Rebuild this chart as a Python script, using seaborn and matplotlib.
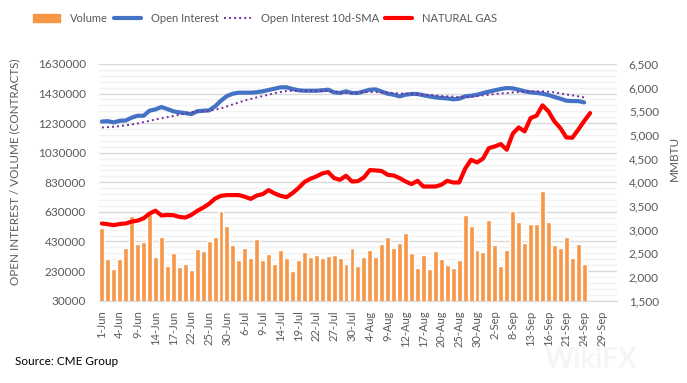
import matplotlib
matplotlib.use("Agg")
import matplotlib.pyplot as plt
import numpy as np
import pandas as pd
import seaborn as sns
from matplotlib.patches import Patch
from matplotlib.lines import Line2D

""" Données lues sur le graphique (jours de bourse du 1-Jun au 24-Sep) """
volume = [524, 310, 244, 310, 384, 603, 411, 427, 615, 323, 459, 262, 353, 256, 276, 238,
          378, 364, 432, 459, 635, 533, 405, 303, 384, 317, 445, 303, 344, 276, 371, 317,
          229, 303, 357, 323, 337, 317, 330, 337, 317, 276, 384, 262, 323, 371, 323, 411,
          459, 384, 418, 486, 350, 249, 337, 242, 368, 314, 274, 253, 308, 612, 538, 375,
          362, 572, 409, 267, 375, 633, 565, 423, 551, 545, 768, 565, 409, 389, 463, 321,
          416, 281]
open_interest = [1241, 1243, 1235, 1246, 1248, 1267, 1280, 1280, 1314, 1323, 1339, 1325, 1310,
                 1303, 1298, 1291, 1310, 1314, 1316, 1343, 1382, 1413, 1429, 1436, 1436, 1436,
                 1439, 1445, 1454, 1463, 1472, 1472, 1461, 1452, 1449, 1449, 1449, 1452, 1456,
                 1438, 1434, 1445, 1434, 1434, 1445, 1456, 1458, 1443, 1429, 1422, 1411, 1422,
                 1427, 1427, 1418, 1411, 1404, 1400, 1397, 1391, 1395, 1411, 1415, 1422, 1433,
                 1443, 1452, 1461, 1467, 1465, 1456, 1445, 1438, 1434, 1429, 1420, 1407, 1395,
                 1382, 1379, 1379, 1370]
oi_sma = [1201, 1203, 1206, 1210, 1215, 1221, 1228, 1237, 1246, 1255, 1262, 1271, 1278, 1287,
          1294, 1303, 1307, 1309, 1314, 1321, 1330, 1343, 1357, 1370, 1384, 1393, 1404, 1413,
          1422, 1433, 1440, 1447, 1449, 1449, 1449, 1449, 1449, 1449, 1447, 1442, 1438, 1433,
          1433, 1436, 1440, 1440, 1440, 1438, 1436, 1433, 1431, 1429, 1427, 1424, 1422, 1420,
          1418, 1413, 1411, 1409, 1406, 1406, 1409, 1413, 1418, 1422, 1427, 1431, 1433, 1438,
          1440, 1442, 1445, 1445, 1445, 1442, 1438, 1431, 1424, 1418, 1411, 1404]
gas_price = [3130, 3115, 3095, 3120, 3130, 3170, 3190, 3240, 3340, 3400, 3300, 3310, 3305, 3270,
             3255, 3310, 3395, 3465, 3545, 3655, 3715, 3730, 3730, 3730, 3695, 3650, 3720, 3750,
             3835, 3765, 3715, 3685, 3770, 3877, 4004, 4074, 4123, 4187, 4216, 4089, 4053, 4138,
             4017, 4025, 4102, 4258, 4251, 4237, 4159, 4144, 4089, 4017, 3962, 4032, 3911, 3911,
             3911, 3947, 4032, 3996, 3996, 4286, 4476, 4420, 4500, 4723, 4758, 4807, 4688, 5026,
             5160, 5075, 5357, 5407, 5626, 5499, 5287, 5146, 4948, 4941, 5111, 5294, 5463]
tick_labels = ['1-Jun', '4-Jun', '9-Jun', '14-Jun', '17-Jun', '22-Jun', '25-Jun', '30-Jun',
               '6-Jul', '9-Jul', '14-Jul', '19-Jul', '22-Jul', '27-Jul', '30-Jul', '4-Aug',
               '9-Aug', '12-Aug', '17-Aug', '20-Aug', '25-Aug', '30-Aug', '2-Sep', '8-Sep',
               '13-Sep', '16-Sep', '21-Sep', '24-Sep', '29-Sep']
n_days = 87  # catégories de l'axe (jusqu'au 1-Oct)

df = pd.DataFrame({'idx': np.arange(len(volume)),
                   'volume': np.array(volume) * 1000,
                   'oi': np.array(open_interest) * 1000,
                   'sma': np.array(oi_sma) * 1000})
gas = pd.DataFrame({'idx': np.arange(len(gas_price)), 'price': gas_price})

sns.set_style("white")
plt.rcParams['font.family'] = ['Lato', 'DejaVu Sans']

txt = '#595959'
fig = plt.figure(figsize=(6.87, 3.83), dpi=100)
ax = fig.add_axes([0.144, 0.215, 0.754, 0.618])
ax2 = ax.twinx()

sns.barplot(data=df, x='idx', y='volume', native_scale=True, color='#F79646',
            saturation=1, width=0.83, ax=ax, zorder=2)
sns.lineplot(data=df, x='idx', y='oi', color='#4472C4', lw=3, ax=ax, zorder=3,
             solid_capstyle='round')
sns.lineplot(data=df, x='idx', y='sma', color='#7030A0', lw=1.4, ax=ax, zorder=4,
             linestyle=(0, (1, 1.6)))
sns.lineplot(data=gas, x='idx', y='price', color='#FF0000', lw=3, ax=ax2,
             solid_capstyle='round')

# axe gauche
left_ticks = np.arange(30000, 1630001, 200000)
ax.set_ylim(30000, 1630000)
ax.set_yticks(left_ticks)
ax.set_yticklabels([str(v) for v in left_ticks])
ax.set_yticks(np.arange(30000, 1630001, 40000), minor=True)
ax.grid(axis='y', which='major', color='#d9d9d9', lw=1)
ax.grid(axis='y', which='minor', color='#f2f2f2', lw=1)
ax.set_axisbelow(True)
ax.set_xlim(-0.5, n_days - 0.5)
ax.set_xticks(np.arange(0, 85, 3))
ax.set_xticklabels(tick_labels, rotation=90)
ax.set_xticks(np.arange(-0.5, n_days, 1), minor=True)
ax.tick_params(axis='x', which='major', length=0, pad=7, labelsize=8, labelcolor=txt)
ax.tick_params(axis='x', which='minor', length=3, color='#d9d9d9', width=0.8)
ax.tick_params(axis='y', which='both', length=0, pad=9.5, labelsize=8.5, labelcolor=txt)
ax.set_xlabel('')
ax.set_ylabel('OPEN INTEREST / VOLUME (CONTRACTS)', fontsize=8.4, color=txt)
ax.yaxis.set_label_coords(-0.152, 0.546)

# axe droit
ax2.set_ylim(1500, 6500)
ax2.set_yticks(np.arange(1500, 6501, 500))
ax2.set_yticklabels([f'{v:,}' for v in range(1500, 6501, 500)])
ax2.tick_params(axis='y', length=0, pad=8.6, labelsize=8.5, labelcolor=txt)
ax2.set_ylabel('MMBTU', fontsize=8.5, color=txt)
ax2.yaxis.set_label_coords(1.1, 0.6)
ax2.grid(False)

for a in (ax, ax2):
    for s in ('top', 'left', 'right'):
        a.spines[s].set_visible(False)
    a.spines['bottom'].set_color('#d9d9d9')

handles = [Patch(color='#F79646'),
           Line2D([], [], color='#4472C4', lw=3, solid_capstyle='round'),
           Line2D([], [], color='#7030A0', lw=1.4, linestyle=(0, (1, 1.6))),
           Line2D([], [], color='#FF0000', lw=3, solid_capstyle='round')]
fig.legend(handles, ['Volume', 'Open Interest', 'Open Interest 10d-SMA', 'NATURAL GAS'],
           loc='center', bbox_to_anchor=(0.386, 0.952), ncol=4, frameon=False,
           fontsize=8, handlelength=2.4, handletextpad=0.9, columnspacing=0.55,
           labelcolor=txt)

fig.text(0.022, 0.057, 'Source: CME Group', fontsize=8.5, color='black', va='center')
fig.text(0.86, 0.06, 'WikiFX', fontsize=20, color='#f5f5f5', weight='bold',
         ha='center', va='center', zorder=0)

fig.savefig('out.png', dpi=100)
